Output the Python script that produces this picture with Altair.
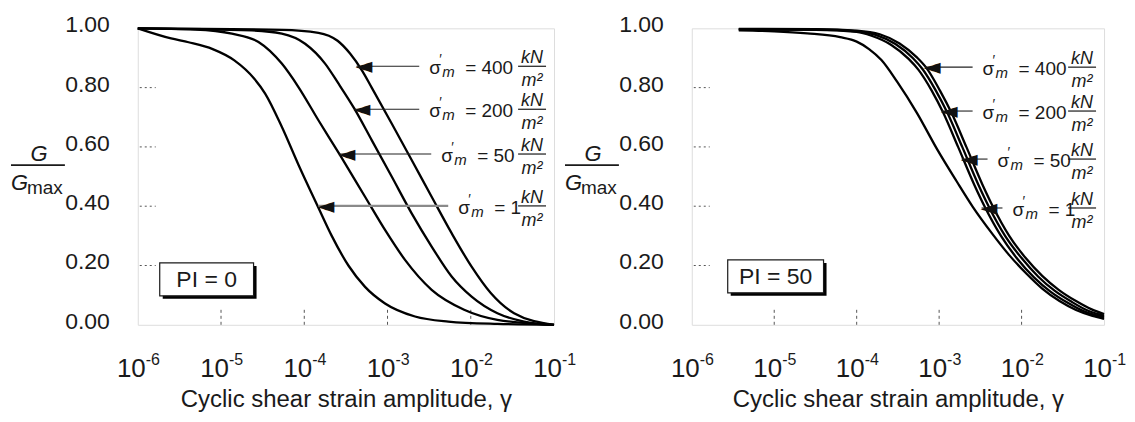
import altair as alt
import pandas as pd

FONT = "Liberation Sans"
W_L, W_R, H = 417, 413, 297
GAP = 138

# ---------------- data (log10 of shear strain, G/Gmax) ----------------
# PI = 0 panel
p0_s1_x = [-6.0, -5.6, -5.39, -5.1, -4.84, -4.6, -4.47, -4.27, -4.07, -3.83, -3.67, -3.47, -3.27, -3.03, -2.67, -2.27, -1.68, -1.0]
p0_s1_y = [1.0, 0.966, 0.953, 0.93, 0.892, 0.83, 0.78, 0.668, 0.54, 0.395, 0.30, 0.20, 0.128, 0.072, 0.028, 0.011, 0.003, 0.0]
p0_s50_x = [-6.0, -5.31, -4.87, -4.55, -4.27, -4.07, -3.83, -3.57, -3.27, -3.03, -2.79, -2.47, -2.08, -1.68, -1.0]
p0_s50_y = [1.0, 0.996, 0.982, 0.954, 0.881, 0.802, 0.690, 0.572, 0.432, 0.320, 0.219, 0.118, 0.051, 0.017, 0.0]
p0_s200_x = [-6.0, -4.63, -4.27, -3.99, -3.75, -3.59, -3.40, -3.19, -2.95, -2.71, -2.47, -2.23, -1.99, -1.68, -1.36, -1.0]
p0_s200_y = [1.0, 0.993, 0.982, 0.948, 0.881, 0.814, 0.730, 0.623, 0.500, 0.376, 0.264, 0.163, 0.095, 0.039, 0.011, 0.0]
p0_s400_x = [-6.0, -4.27, -3.83, -3.6, -3.45, -3.3, -3.19, -2.95, -2.71, -2.47, -2.23, -1.99, -1.76, -1.48, -1.0]
p0_s400_y = [1.0, 0.995, 0.985, 0.958, 0.915, 0.855, 0.800, 0.679, 0.556, 0.432, 0.309, 0.196, 0.107, 0.039, 0.0]

# PI = 50 panel
p50_s1_x = [-5.43, -5.0, -4.6, -4.2, -4.0, -3.85, -3.7, -3.51, -3.27, -3.02, -2.79, -2.59, -2.35, -2.15, -1.94, -1.75, -1.54, -1.34, -1.14, -1.0]
p50_s1_y = [0.993, 0.99, 0.983, 0.97, 0.955, 0.93, 0.893, 0.82, 0.715, 0.59, 0.485, 0.397, 0.305, 0.235, 0.172, 0.122, 0.08, 0.05, 0.03, 0.02]
p50_s50_x = [-5.43, -4.5, -4.0, -3.82, -3.58, -3.37, -3.25, -3.09, -2.95, -2.77, -2.57, -2.45, -2.25, -2.05, -1.85, -1.65, -1.44, -1.25, -1.0]
p50_s50_y = [0.996, 0.995, 0.988, 0.975, 0.944, 0.897, 0.86, 0.79, 0.715, 0.60, 0.47, 0.40, 0.30, 0.222, 0.16, 0.112, 0.074, 0.046, 0.025]
p50_s200_x = [-5.43, -4.5, -4.0, -3.77, -3.53, -3.32, -3.2, -3.04, -2.9, -2.72, -2.52, -2.4, -2.2, -2.0, -1.8, -1.6, -1.39, -1.2, -1.0]
p50_s200_y = [0.997, 0.996, 0.99, 0.978, 0.947, 0.90, 0.862, 0.79, 0.715, 0.60, 0.47, 0.40, 0.30, 0.225, 0.163, 0.115, 0.077, 0.048, 0.03]
p50_s400_x = [-5.43, -4.5, -4.0, -3.72, -3.48, -3.27, -3.15, -2.99, -2.85, -2.67, -2.47, -2.35, -2.15, -1.95, -1.75, -1.55, -1.34, -1.15, -1.0]
p50_s400_y = [0.998, 0.997, 0.992, 0.98, 0.949, 0.902, 0.865, 0.79, 0.715, 0.60, 0.47, 0.40, 0.30, 0.225, 0.165, 0.118, 0.08, 0.052, 0.036]

sigma_labels = ["400", "200", "50", "1"]
# annotation arrows: tip on the curve (log10 gamma, G/Gmax), tail of the arrow (log10 gamma)
p0_tip_x = [-3.374, -3.398, -3.578, -3.830]
p0_tip_y = [0.872, 0.727, 0.576, 0.401]
p0_tail_x = [-2.619, -2.619, -2.475, -2.271]
p50_tip_x = [-3.174, -2.969, -2.727, -2.486]
p50_tip_y = [0.869, 0.721, 0.559, 0.394]
p50_tail_x = [-2.594, -2.594, -2.413, -2.232]

tick_exp = [-6, -5, -4, -3, -2, -1]
y_ticks = [0.0, 0.2, 0.4, 0.6, 0.8, 1.0]
inner_y_ticks = [0.2, 0.4, 0.6, 0.8]
inner_x_ticks = [-5, -4, -3, -2]


def curves_df(series):
    rows = []
    for sig, xs, ys in series:
        for a, b in zip(xs, ys):
            rows.append({"gamma": 10 ** a, "g": b, "sigma": sig})
    return pd.DataFrame(rows)


def ann_df(tx, ty, tl):
    return pd.DataFrame({
        "tip": [10 ** v for v in tx],
        "tail": [10 ** v for v in tl],
        "level": ty,
        "eq": ["= " + s for s in sigma_labels],
    })


XS = alt.Scale(type="log", domain=[1e-6, 1e-1], nice=False)
YS = alt.Scale(domain=[0, 1], nice=False)
INK = "#1a1a1a"


def panel(curves, ann, W, pi_text, box, grey_low_arrow):
    xenc = alt.X("gamma:Q", scale=XS, axis=alt.Axis(
        labels=False, ticks=False, domain=False, grid=False,
        title="Cyclic shear strain amplitude, γ", titleFont=FONT, titleFontSize=24,
        titleFontWeight="normal", titleColor=INK, titlePadding=63))
    yenc = alt.Y("g:Q", scale=YS, axis=alt.Axis(
        labels=False, ticks=False, domain=False, grid=False, title=None))

    lines = alt.Chart(curves).mark_line(color="black", strokeWidth=2.3, interpolate="monotone").encode(
        x=xenc, y=yenc, detail="sigma:N")

    ylab = alt.Chart(pd.DataFrame({"v": y_ticks})).mark_text(
        align="right", baseline="middle", dy=-3, font=FONT, fontSize=23, color=INK).encode(
        y=alt.Y("v:Q", scale=YS), x=alt.value(-28), text=alt.Text("v:Q", format=".2f"))

    ytk = alt.Chart(pd.DataFrame({"v": inner_y_ticks})).mark_rule(
        color="#555", strokeWidth=1, strokeDash=[2, 3]).encode(
        y=alt.Y("v:Q", scale=YS), x=alt.value(2), x2=alt.value(18))
    xtk = alt.Chart(pd.DataFrame({"v": [10 ** e for e in inner_x_ticks]})).mark_rule(
        color="#555", strokeWidth=1, strokeDash=[3, 3]).encode(
        x=alt.X("v:Q", scale=XS), y=alt.value(H), y2=alt.value(H - 15))

    tdf = pd.DataFrame({"v": [10 ** e for e in tick_exp], "base": ["10"] * len(tick_exp),
                        "ex": [str(e) for e in tick_exp]})
    tbase = alt.Chart(tdf).mark_text(align="right", baseline="alphabetic", dx=8, font=FONT,
                                     fontSize=26, color=INK).encode(
        x=alt.X("v:Q", scale=XS), y=alt.value(H + 52), text="base:N")
    texp = alt.Chart(tdf).mark_text(align="left", baseline="alphabetic", dx=8, font=FONT,
                                    fontSize=16, color=INK).encode(
        x=alt.X("v:Q", scale=XS), y=alt.value(H + 40), text="ex:N")

    # y axis title  G / Gmax
    one = pd.DataFrame({"a": [0]})
    g_top = alt.Chart(one).mark_text(text="G", align="center", baseline="alphabetic", font=FONT,
                                     fontSize=22, fontStyle="italic", color=INK).encode(
        x=alt.value(-99), y=alt.value(133))
    g_bar = alt.Chart(one).mark_rule(color=INK, strokeWidth=1.6).encode(
        x=alt.value(-127), x2=alt.value(-73), y=alt.value(137))
    g_bot = alt.Chart(one).mark_text(text="G", align="left", baseline="alphabetic", font=FONT,
                                     fontSize=22, fontStyle="italic", color=INK).encode(
        x=alt.value(-127), y=alt.value(162))
    g_max = alt.Chart(one).mark_text(text="max", align="left", baseline="alphabetic", font=FONT,
                                     fontSize=19, color=INK).encode(
        x=alt.value(-111), y=alt.value(166))

    # PI box with shadow
    x0, x1, y0, y1 = box
    shadow = alt.Chart(one).mark_rect(color="black").encode(
        x=alt.value(x0 + 3), x2=alt.value(x1 + 3), y=alt.value(y0 + 3), y2=alt.value(y1 + 3))
    rbox = alt.Chart(one).mark_rect(fill="white", stroke=INK, strokeWidth=1.2).encode(
        x=alt.value(x0), x2=alt.value(x1), y=alt.value(y0), y2=alt.value(y1))
    ptxt = alt.Chart(one).mark_text(text=pi_text, align="center", baseline="middle", font=FONT,
                                    fontSize=23, color=INK).encode(
        x=alt.value((x0 + x1) / 2), y=alt.value((y0 + y1) / 2 + 1))

    # annotations
    A = alt.Chart(ann)
    ax = alt.X("tip:Q", scale=XS)
    ay = alt.Y("level:Q", scale=YS)
    if grey_low_arrow:
        arrow_dark = A.transform_filter("datum.eq != '= 1'").mark_rule(
            color="#222", strokeWidth=1.1).encode(x=ax, x2="tail:Q", y=ay)
        arrow_grey = A.transform_filter("datum.eq == '= 1'").mark_rule(
            color="#8a8a8a", strokeWidth=2.2).encode(x=ax, x2="tail:Q", y=ay)
        arrows = [arrow_dark, arrow_grey]
    else:
        arrows = [A.mark_rule(color="#222", strokeWidth=1.1).encode(x=ax, x2="tail:Q", y=ay)]
    head = A.mark_text(text="◄", align="left", baseline="middle", dx=-1, dy=0, font="DejaVu Sans",
                       fontSize=22, color="#111").encode(x=ax, y=ay)
    tx = alt.X("tail:Q", scale=XS)
    sig = A.mark_text(text="σ", align="left", baseline="alphabetic", dx=10, dy=8, font=FONT,
                      fontSize=19, color=INK).encode(x=tx, y=ay)
    prime = A.mark_text(text="′", align="left", baseline="alphabetic", dx=20, dy=-2, font=FONT,
                        fontSize=14, color=INK).encode(x=tx, y=ay)
    sub_m = A.mark_text(text="m", align="left", baseline="alphabetic", dx=23, dy=11, font=FONT,
                        fontSize=15, fontStyle="italic", color=INK).encode(x=tx, y=ay)
    eq = A.mark_text(align="left", baseline="alphabetic", dx=46, dy=8, font=FONT,
                     fontSize=19, color=INK).encode(x=tx, y=ay, text="eq:N")
    kn = A.mark_text(text="kN", align="center", baseline="alphabetic", dy=-3, font=FONT,
                     fontSize=18, fontStyle="italic", color=INK).encode(x=alt.value(W - 22), y=ay)
    fbar = A.mark_rule(color=INK, strokeWidth=1.2).encode(
        x=alt.value(W - 36), x2=alt.value(W - 8), y=ay)
    m2 = A.mark_text(text="m²", align="center", baseline="alphabetic", dy=20, font=FONT,
                     fontSize=18, fontStyle="italic", color=INK).encode(x=alt.value(W - 22), y=ay)

    return alt.layer(
        ytk, xtk, lines, ylab, tbase, texp, g_top, g_bar, g_bot, g_max,
        shadow, rbox, ptxt, *arrows, head, sig, prime, sub_m, eq, kn, fbar, m2
    ).properties(width=W, height=H)


left_curves = curves_df([("1", p0_s1_x, p0_s1_y), ("50", p0_s50_x, p0_s50_y),
                         ("200", p0_s200_x, p0_s200_y), ("400", p0_s400_x, p0_s400_y)])
right_curves = curves_df([("1", p50_s1_x, p50_s1_y), ("50", p50_s50_x, p50_s50_y),
                          ("200", p50_s200_x, p50_s200_y), ("400", p50_s400_x, p50_s400_y)])

left = panel(left_curves, ann_df(p0_tip_x, p0_tip_y, p0_tail_x), W_L, "PI = 0",
             (22, 116, 235, 268), True)
right = panel(right_curves, ann_df(p50_tip_x, p50_tip_y, p50_tail_x), W_R, "PI = 50",
              (36, 132, 232, 265), False)

chart = alt.hconcat(left, right, spacing=GAP, bounds="flush").properties(
    padding={"left": 1, "top": 5, "right": 0, "bottom": 0}
).configure_view(stroke="#333", strokeWidth=1.6).configure(background="white")

chart.save("out.html", embed_options={"renderer": "svg", "actions": False})
